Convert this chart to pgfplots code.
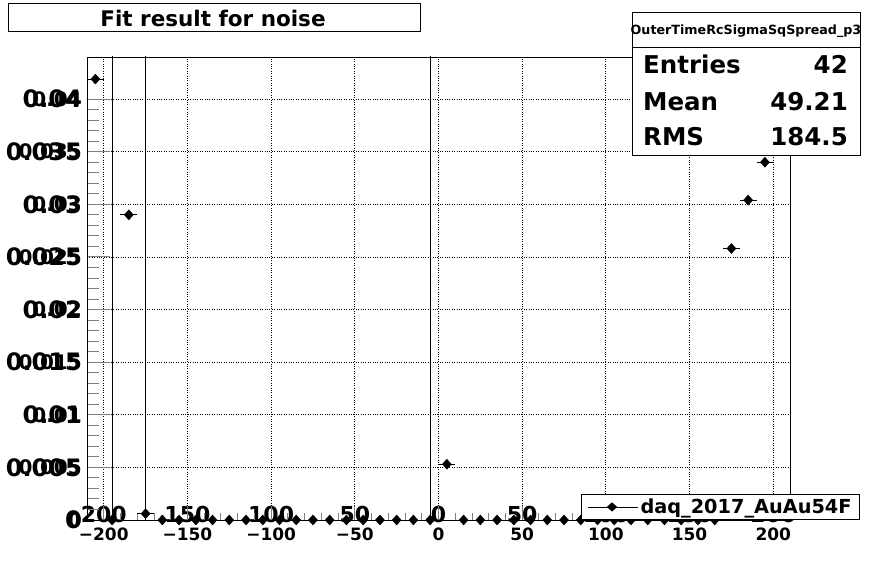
\documentclass[border=0pt]{standalone}
\usepackage{fontspec}
\setmainfont{DejaVu Sans}
\usepackage{pgfplots}
\pgfplotsset{compat=1.18}
\usepackage{pgfplotstable}

% bin centre, content, x error (half bin), y error
\pgfplotstableread{
x y ex ey
-205 0.0419 5 0
-195 0 5 0.1
-185 0.0290 5 0
-175 0.0006 5 0.1
-165 0 5 0
-155 0 5 0
-145 0 5 0
-135 0 5 0
-125 0 5 0
-115 0 5 0
-105 0 5 0
-95 0 5 0
-85 0 5 0
-75 0 5 0
-65 0 5 0
-55 0 5 0
-45 0 5 0
-35 0 5 0
-25 0 5 0
-15 0 5 0
-5 0 5 0.1
5 0.0053 5 0
15 0 5 0
25 0 5 0
35 0 5 0
45 0 5 0
55 0 5 0
65 0 5 0
75 0 5 0
85 0 5 0
95 0 5 0
105 0 5 0
115 0 5 0
125 0 5 0
135 0 5 0
145 0 5 0
155 0 5 0
165 0 5 0
175 0.0258 5 0
185 0.0304 5 0
195 0.0340 5 0
205 0.0352 5 0
}\noise

\newcommand{\fs}[1]{\fontsize{#1}{#1}\selectfont\bfseries}

\pgfplotsset{
  frame/.style={
    at={(87pt,58pt)}, anchor=south west,
    scale only axis, width=703pt, height=463pt,
    xmin=-210, xmax=210, ymin=0, ymax=0.044,
    scaled ticks=false,
    xtick={-200,-150,-100,-50,0,50,100,150,200},
    ytick={0,0.005,0.01,0.015,0.02,0.025,0.03,0.035,0.04},
    yticklabels={0,0.005,0.01,0.015,0.02,0.025,0.03,0.035,0.04},
  },
}

\begin{document}
\begin{tikzpicture}
\useasboundingbox (0,0) rectangle (878pt,578pt);

% second set of labels that ROOT painted on top of the first
\begin{axis}[frame,
    axis line style={draw=none},
    major tick length=0pt, minor tick num=0,
    xticklabels={200,150,100,50,0,50,100,150,200},
    xticklabel style={font=\fs{22}, anchor=center, inner sep=0pt, yshift=6pt},
    yticklabel style={font=\fs{20}, anchor=east, inner sep=0pt, xshift=-5pt},
]
\end{axis}

\begin{axis}[frame,
    axis line style={line width=0.9pt},
    tick align=inside, tick pos=left,
    minor x tick num=4, minor y tick num=4,
    xtick style={line width=0.9pt, /pgfplots/major tick length=14pt, /pgfplots/minor tick length=7pt},
    ytick style={line width=0.9pt, /pgfplots/major tick length=23pt, /pgfplots/minor tick length=11.5pt},
    xmajorgrids, ymajorgrids,
    major grid style={dotted, line width=0.8pt, black},
    xticklabels={−200,−150,−100,−50,0,50,100,150,200},
    xticklabel style={font=\fs{17}, anchor=center, inner sep=0pt, yshift=-14pt},
    yticklabel style={font=\fs{24}, anchor=east, inner sep=0pt, xshift=-5pt},
    legend style={at={(1.0996,0)}, anchor=south east, draw=black, line width=0.9pt,
      fill=white, font=\fs{19.3}, inner xsep=6pt, inner ysep=2.5pt,
      legend cell align=left},
    legend image code/.code={
      \draw[black, line width=0.9pt] (0pt,0pt) -- (50pt,0pt);
      \fill[black] (24pt,4pt) -- (28.5pt,0pt) -- (24pt,-4pt) -- (19.5pt,0pt) -- cycle;
    },
]
\addplot[black, only marks, mark=diamond*, mark size=5pt,
    mark options={xscale=1.2, fill=black},
    error bars/.cd, x dir=both, x explicit, y dir=both, y explicit,
    error bar style={black, line width=0.9pt}, error mark=none]
  table[x=x, y=y, x error=ex, y error=ey] {\noise};
\addlegendentry{daq\_2017\_AuAu54F}
\end{axis}

% title box
\draw[line width=0.9pt, fill=white] (8pt,547pt) rectangle (420pt,575pt);
\node[font=\fs{21.5}, anchor=base] at (213pt,551.5pt) {Fit result for noise};

% statistics box
\draw[line width=0.9pt, fill=white] (632pt,423pt) rectangle (860pt,566pt);
\draw[line width=0.9pt] (632pt,531pt) -- (860pt,531pt);
\node[font=\fs{12.7}, anchor=base] at (746pt,543pt) {OuterTimeRcSigmaSqSpread\_p3};
\node[font=\fs{24.5}, anchor=base west, inner sep=0pt] at (643pt,504pt) {Entries};
\node[font=\fs{24.5}, anchor=base east, inner sep=0pt] at (848pt,504pt) {42};
\node[font=\fs{24.5}, anchor=base west, inner sep=0pt] at (643pt,467pt) {Mean};
\node[font=\fs{24.5}, anchor=base east, inner sep=0pt] at (848pt,467pt) {49.21};
\node[font=\fs{24.5}, anchor=base west, inner sep=0pt] at (643pt,432pt) {RMS};
\node[font=\fs{24.5}, anchor=base east, inner sep=0pt] at (848pt,432pt) {184.5};
\end{tikzpicture}
\end{document}
